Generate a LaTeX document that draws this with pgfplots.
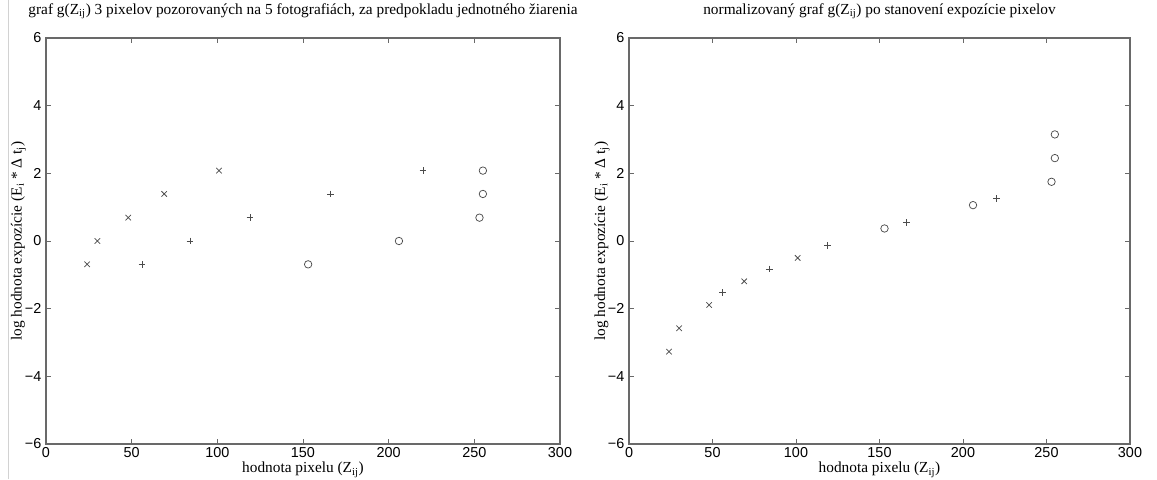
\documentclass[border=0pt]{standalone}
\usepackage{fontspec}
\setmainfont{Liberation Serif}
\newfontfamily\arialf{Liberation Sans}
\usepackage{pgfplots}
\pgfplotsset{compat=1.18}
\definecolor{axgray}{RGB}{105,105,105}
\definecolor{mkgray}{RGB}{75,75,75}
\pgfplotsset{mystyle/.style={
  scale only axis, height=304.5pt,
  xmin=0, xmax=300, ymin=-6, ymax=6,
  xtick={0,50,...,300}, ytick={-6,-4,...,6},
  xticklabels={0,50,100,150,200,250,300},
  yticklabels={−6,−4,−2,0,2,4,6},
  tick align=inside, major tick length=3.5pt,
  axis line style={axgray, line width=0.8pt},
  every tick/.style={axgray, line width=0.6pt},
  tick label style={font=\arialf\fontsize{10.8}{12}\selectfont, text=black},
  xticklabel style={yshift=1pt},
  title style={font=\fontsize{11.5}{13}\selectfont, at={(axis description cs:0.5,1)}, anchor=south, yshift=8pt, inner sep=0pt},
  xlabel style={font=\fontsize{11.5}{13}\selectfont, at={(axis description cs:0.5,0)}, anchor=north, yshift=-13.5pt, inner sep=0pt},
  ylabel style={font=\fontsize{11.5}{13}\selectfont, at={(axis description cs:-0.038,0.5)}, anchor=south, inner sep=0pt},
  xlabel={hodnota pixelu (Z\textsubscript{ij})},
  ylabel={log hodnota expozície (E\textsubscript{i} * Δ t\textsubscript{j})},
  xmark/.style={only marks, mark=x, mark size=2.9pt, mkgray, mark options={line width=0.55pt}},
  pmark/.style={only marks, mark=+, mark size=2.5pt, mkgray, mark options={line width=0.55pt}},
  omark/.style={only marks, mark=o, mark size=2.8pt, mkgray, mark options={line width=0.55pt}},
}}
\begin{document}
\begin{tikzpicture}
\path[use as bounding box] (0,0) rectangle (867.75pt,359.25pt);
\draw[gray!35, line width=0.6pt] (6.5pt,0) -- (6.5pt,359.25pt);
\begin{axis}[mystyle, width=385.5pt, at={(34.5pt,26.25pt)}, anchor=south west,
  title={graf g(Z\textsubscript{ij}) 3 pixelov pozorovaných na 5 fotografiách, za predpokladu jednotného žiarenia}]
\addplot[xmark] coordinates {(24,-0.69) (30,0) (48,0.69) (69,1.39) (101,2.08)};
\addplot[pmark] coordinates {(56,-0.69) (84,0) (119,0.69) (166,1.39) (220,2.08)};
\addplot[omark] coordinates {(153,-0.69) (206,0) (253,0.69) (255,1.39) (255,2.08)};
\end{axis}
\begin{axis}[mystyle, width=375.75pt, at={(471.75pt,26.25pt)}, anchor=south west,
  title={normalizovaný graf g(Z\textsubscript{ij}) po stanovení expozície pixelov}]
\addplot[xmark] coordinates {(24,-3.27) (30,-2.58) (48,-1.89) (69,-1.19) (101,-0.50)};
\addplot[pmark] coordinates {(56,-1.52) (84,-0.83) (119,-0.14) (166,0.55) (220,1.25)};
\addplot[omark] coordinates {(153,0.37) (206,1.06) (253,1.75) (255,2.45) (255,3.15)};
\end{axis}
\end{tikzpicture}
\end{document}
